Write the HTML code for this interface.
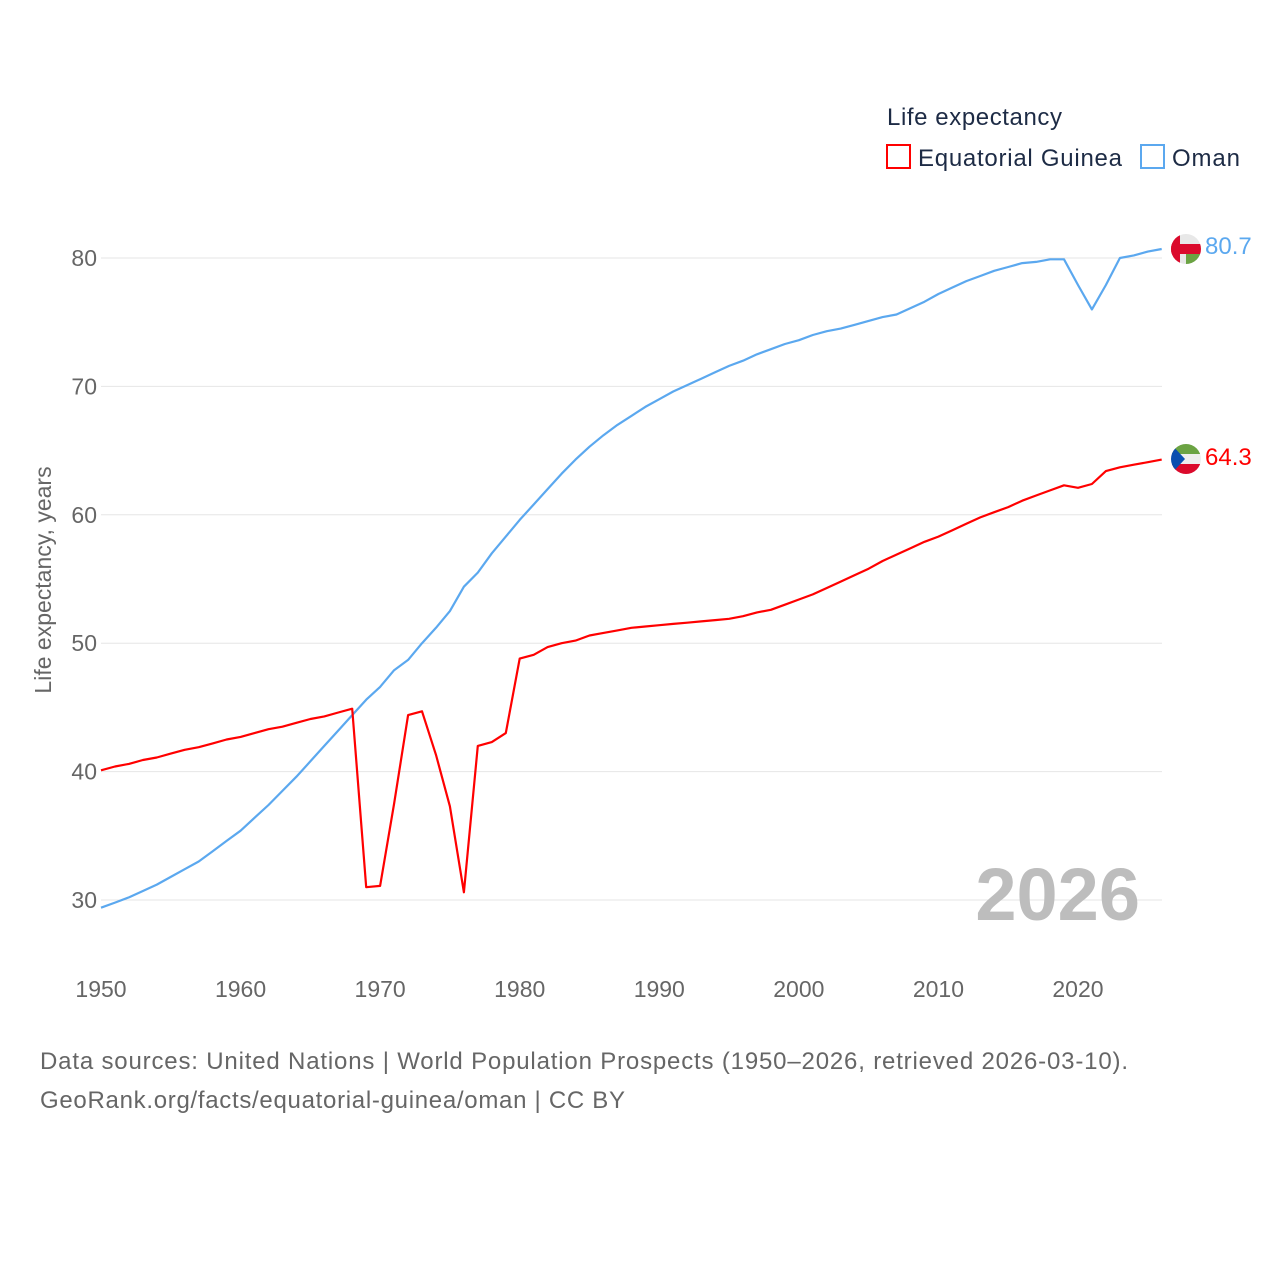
<!DOCTYPE html>
<html><head><meta charset="utf-8"><style>
body{margin:0;background:#fff;font-family:"Liberation Sans",sans-serif}
svg text{font-family:"Liberation Sans",sans-serif}
</style></head><body>
<svg id="chart" width="1280" height="1280" xmlns="http://www.w3.org/2000/svg">
<text x="887" y="125" font-size="24" fill="#1d2b45" textLength="175">Life expectancy</text>
<g><rect x="887" y="145" width="23" height="23" fill="none" stroke="#ff0000" stroke-width="2"/><text x="918" y="166" font-size="24" fill="#1d2b45" textLength="204">Equatorial Guinea</text></g>
<g><rect x="1141" y="145" width="23" height="23" fill="none" stroke="#5ba8ef" stroke-width="2"/><text x="1172" y="166" font-size="24" fill="#1d2b45" textLength="68">Oman</text></g>
<g id="grid"></g>
<g id="yticks"></g>
<g id="xticks"></g>
<text transform="translate(51,580) rotate(-90)" text-anchor="middle" font-size="23" fill="#666">Life expectancy, years</text>
<text x="1140" y="920" text-anchor="end" font-size="74" font-weight="bold" fill="#bdbdbd">2026</text>
<g id="series"></g>
<g><clipPath id="c1"><circle cx="1186" cy="249" r="15"/></clipPath><g clip-path="url(#c1)"><rect x="1171" y="234" width="30" height="30" fill="#e8e8e8"/><rect x="1171" y="244" width="30" height="10" fill="#db0a2c"/><rect x="1186" y="254" width="15" height="10" fill="#6ba343"/><rect x="1171" y="234" width="9" height="30" fill="#db0a2c"/></g></g>
<g><clipPath id="c2"><circle cx="1186" cy="459" r="15"/></clipPath><g clip-path="url(#c2)"><rect x="1171" y="444" width="30" height="10" fill="#6ba343"/><rect x="1171" y="454" width="30" height="10" fill="#eee"/><rect x="1171" y="464" width="30" height="10" fill="#db0a2c"/><polygon points="1171,444 1185,459 1171,474" fill="#0a4fb0"/></g></g>
<text id="lblO" x="1205" y="254" font-size="24" fill="#5ba8ef">80.7</text>
<text id="lblE" x="1205" y="465" font-size="24" fill="#ff0000">64.3</text>
<text x="40" y="1069" font-size="24" fill="#666" textLength="1088">Data sources: United Nations | World Population Prospects (1950–2026, retrieved 2026-03-10).</text>
<text x="40" y="1108" font-size="24" fill="#666" textLength="585">GeoRank.org/facts/equatorial-guinea/oman | CC BY</text>
</svg>
<script>
const startYear = 1950;
const yTicks = [30,40,50,60,70,80];
const xTicks = [1950,1960,1970,1980,1990,2000,2010,2020];
const eqGuinea = [40.1,40.4,40.6,40.9,41.1,41.4,41.7,41.9,42.2,42.5,42.7,43.0,43.3,43.5,43.8,44.1,44.3,44.6,44.9,31.0,31.1,37.5,44.4,44.7,41.3,37.3,30.6,42.0,42.3,43.0,48.8,49.1,49.7,50.0,50.2,50.6,50.8,51.0,51.2,51.3,51.4,51.5,51.6,51.7,51.8,51.9,52.1,52.4,52.6,53.0,53.4,53.8,54.3,54.8,55.3,55.8,56.4,56.9,57.4,57.9,58.3,58.8,59.3,59.8,60.2,60.6,61.1,61.5,61.9,62.3,62.1,62.4,63.4,63.7,63.9,64.1,64.3];
const oman = [29.4,29.8,30.2,30.7,31.2,31.8,32.4,33.0,33.8,34.6,35.4,36.4,37.4,38.5,39.6,40.8,42.0,43.2,44.4,45.6,46.6,47.9,48.7,50.0,51.2,52.5,54.4,55.5,57.0,58.3,59.6,60.8,62.0,63.2,64.3,65.3,66.2,67.0,67.7,68.4,69.0,69.6,70.1,70.6,71.1,71.6,72.0,72.5,72.9,73.3,73.6,74.0,74.3,74.5,74.8,75.1,75.4,75.6,76.1,76.6,77.2,77.7,78.2,78.6,79.0,79.3,79.6,79.7,79.9,79.9,77.9,76.0,77.9,80.0,80.2,80.5,80.7];
const X = yr => 101 + (yr - 1950) * 13.957;
const Y = v => 258 + (80 - v) * 12.84;
const NS = "http://www.w3.org/2000/svg";
const grid = document.getElementById('grid'), yt = document.getElementById('yticks'), xt = document.getElementById('xticks'), ser = document.getElementById('series');
yTicks.forEach(v => {
  const l = document.createElementNS(NS,'line');
  
  
  l.setAttribute('x1',101); l.setAttribute('x2',1162); l.setAttribute('y1',Y(v)); l.setAttribute('y2',Y(v));
  l.setAttribute('stroke','#e6e6e6'); l.setAttribute('stroke-width','1');
  grid.appendChild(l);
  const t = document.createElementNS(NS,'text');
  
  
  t.setAttribute('x',97); t.setAttribute('y',Y(v)+8); t.setAttribute('text-anchor','end');
  t.setAttribute('font-size','23'); t.setAttribute('fill','#666'); t.textContent = v;
  yt.appendChild(t);
});
xTicks.forEach(v => {
  const t = document.createElementNS(NS,'text');
  
  
  t.setAttribute('x',X(v)); t.setAttribute('y',997); t.setAttribute('text-anchor','middle');
  t.setAttribute('font-size','23'); t.setAttribute('fill','#666'); t.textContent = v;
  xt.appendChild(t);
});
function line(arr, color, name){
  const p = document.createElementNS(NS,'polyline');
  
  
  p.setAttribute('points', arr.map((v,i)=>X(startYear+i).toFixed(1)+','+Y(v).toFixed(1)).join(' '));
  p.setAttribute('fill','none'); p.setAttribute('stroke',color); p.setAttribute('stroke-width','2.2'); p.setAttribute('stroke-linejoin','round');
  ser.appendChild(p);
}
line(oman,'#5ba8ef','oman-line');
line(eqGuinea,'#ff0000','equatorial-guinea-line');
document.getElementById('lblO').textContent = oman[oman.length-1].toFixed(1);
document.getElementById('lblE').textContent = eqGuinea[eqGuinea.length-1].toFixed(1);
</script>
</body></html>
